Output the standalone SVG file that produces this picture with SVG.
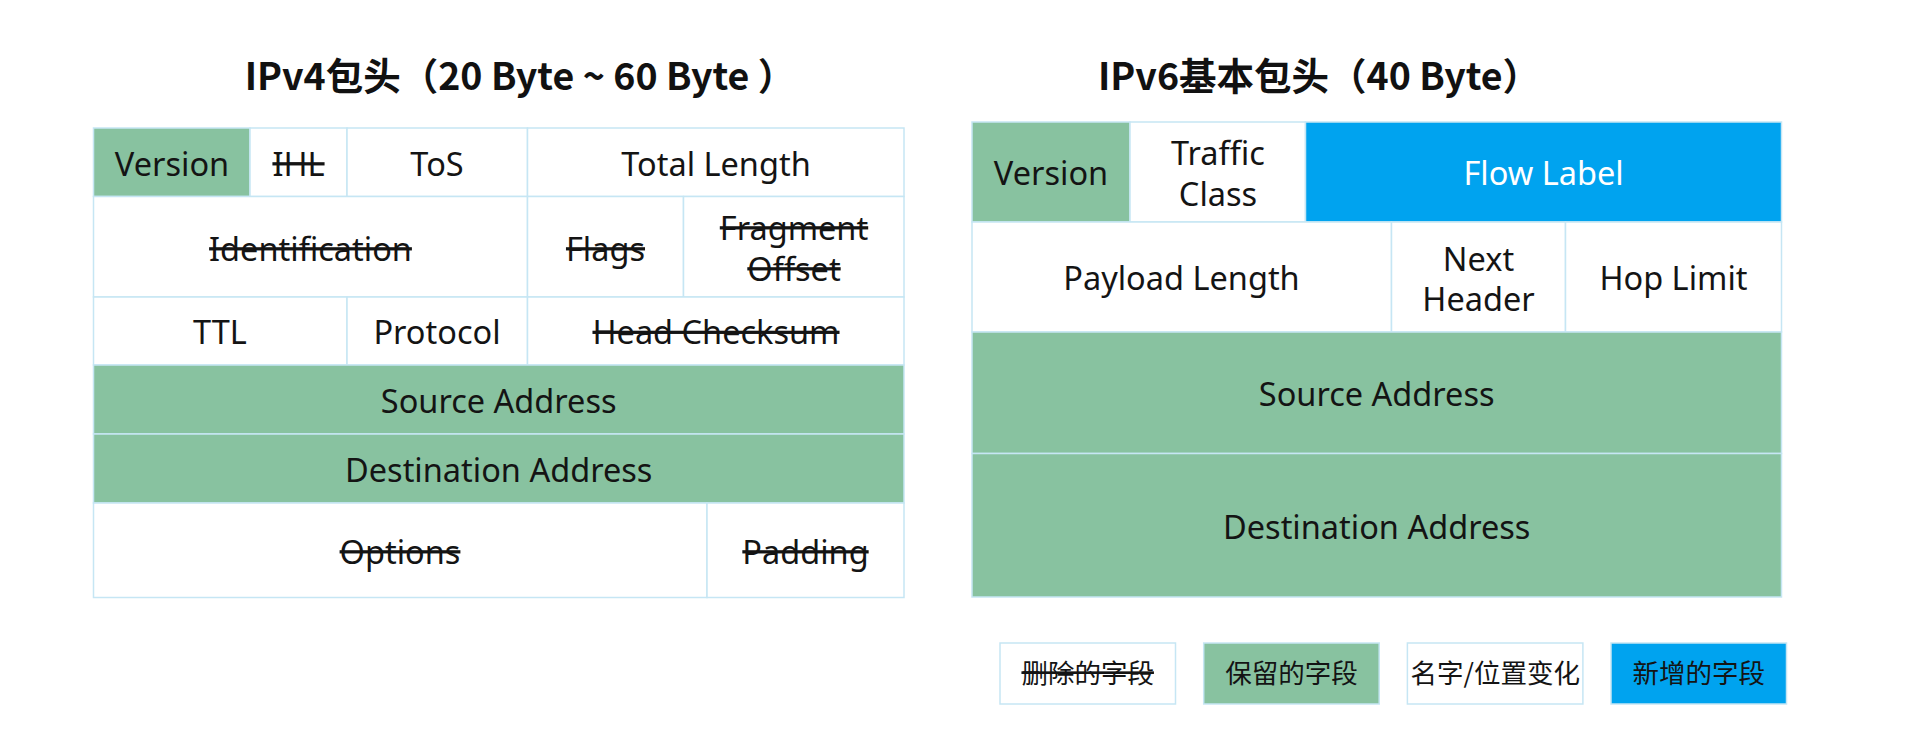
<svg xmlns="http://www.w3.org/2000/svg" width="1924" height="730" viewBox="0 0 1924 730">
  <style>
    .cell { stroke: #c6e6f4; stroke-width: 1.5; }
    .w { fill: #ffffff; }
    .g { fill: #88c2a0; }
    .b { fill: #00a3ef; }
    .t { font-family: "Noto Sans", "Noto Sans CJK SC", sans-serif; font-size: 32.5px; fill: #141414; text-anchor: middle; }
    .tw { fill: #ffffff; }
    .del { text-decoration: line-through; }
    .title { font-family: "Noto Sans CJK SC", "Noto Sans", sans-serif; font-size: 37.5px; font-weight: bold; fill: #111111; text-anchor: middle; }
    .lg { font-family: "Noto Sans CJK SC", sans-serif; font-size: 26.5px; fill: #141414; text-anchor: middle; }
  </style>
  <rect width="1924" height="730" fill="#ffffff"/>

  <!-- titles -->
  <g id="title-ipv4"><text class="title" x="520" y="90">IPv4包头（20 Byte ~ 60 Byte ）</text></g>
  <g id="title-ipv6"><text class="title" x="1319" y="90">IPv6基本包头（40 Byte）</text></g>

  <!-- IPv4 header -->
  <g id="ipv4">
    <g id="v4-version"><rect class="cell g" x="93.5" y="128" width="156.5" height="68.5"/><text class="t" x="172" y="175.5">Version</text></g>
    <g id="v4-ihl"><rect class="cell w" x="250" y="128" width="97" height="68.5"/><text class="t del" x="298.5" y="175.5">IHL</text></g>
    <g id="v4-tos"><rect class="cell w" x="347" y="128" width="180.5" height="68.5"/><text class="t" x="437" y="175.5">ToS</text></g>
    <g id="v4-total-length"><rect class="cell w" x="527.5" y="128" width="376.5" height="68.5"/><text class="t" x="716" y="175.5">Total Length</text></g>

    <g id="v4-identification"><rect class="cell w" x="93.5" y="196.5" width="434" height="100.5"/><text class="t del" x="310.5" y="260.5">Identification</text></g>
    <g id="v4-flags"><rect class="cell w" x="527.5" y="196.5" width="156" height="100.5"/><text class="t del" x="605.5" y="260.5">Flags</text></g>
    <g id="v4-fragment-offset"><rect class="cell w" x="683.5" y="196.5" width="220.5" height="100.5"/><text class="t del" x="794" y="239.5">Fragment</text><text class="t del" x="794" y="280.5">Offset</text></g>

    <g id="v4-ttl"><rect class="cell w" x="93.5" y="297" width="253.5" height="68"/><text class="t" x="220" y="344">TTL</text></g>
    <g id="v4-protocol"><rect class="cell w" x="347" y="297" width="180.5" height="68"/><text class="t" x="437" y="344">Protocol</text></g>
    <g id="v4-checksum"><rect class="cell w" x="527.5" y="297" width="376.5" height="68"/><text class="t del" x="716" y="344">Head Checksum</text></g>

    <g id="v4-source"><rect class="cell g" x="93.5" y="365" width="810.5" height="69"/><text class="t" x="498.7" y="412.5">Source Address</text></g>
    <g id="v4-destination"><rect class="cell g" x="93.5" y="434" width="810.5" height="69"/><text class="t" x="498.7" y="481.5">Destination Address</text></g>

    <g id="v4-options"><rect class="cell w" x="93.5" y="503" width="613.5" height="94.5"/><text class="t del" x="400" y="563.5">Options</text></g>
    <g id="v4-padding"><rect class="cell w" x="707" y="503" width="197" height="94.5"/><text class="t del" x="805.5" y="563.5">Padding</text></g>
  </g>

  <!-- IPv6 base header -->
  <g id="ipv6">
    <g id="v6-version"><rect class="cell g" x="972" y="122" width="158" height="100"/><text class="t" x="1051" y="184.5">Version</text></g>
    <g id="v6-traffic-class"><rect class="cell w" x="1130" y="122" width="175.5" height="100"/><text class="t" x="1218" y="164.5">Traffic</text><text class="t" x="1218" y="205.5">Class</text></g>
    <g id="v6-flow-label"><rect class="cell b" x="1305.5" y="122" width="476" height="100"/><text class="t tw" x="1543.5" y="184.5">Flow Label</text></g>

    <g id="v6-payload-length"><rect class="cell w" x="972" y="222" width="419.5" height="110"/><text class="t" x="1181.5" y="290">Payload Length</text></g>
    <g id="v6-next-header"><rect class="cell w" x="1391.5" y="222" width="174" height="110"/><text class="t" x="1478.5" y="270.5">Next</text><text class="t" x="1478.5" y="311">Header</text></g>
    <g id="v6-hop-limit"><rect class="cell w" x="1565.5" y="222" width="216" height="110"/><text class="t" x="1673.5" y="290">Hop Limit</text></g>

    <g id="v6-source"><rect class="cell g" x="972" y="332" width="809.5" height="121.5"/><text class="t" x="1376.7" y="405.5">Source Address</text></g>
    <g id="v6-destination"><rect class="cell g" x="972" y="453.5" width="809.5" height="143.5"/><text class="t" x="1376.7" y="539">Destination Address</text></g>
  </g>

  <!-- legend -->
  <g id="legend">
    <g id="legend-removed"><rect class="cell w" x="1000" y="643" width="175.5" height="61"/><text class="lg del" x="1087.7" y="683">删除的字段</text></g>
    <g id="legend-kept"><rect class="cell g" x="1203.7" y="643" width="175.5" height="61"/><text class="lg" x="1291.5" y="683">保留的字段</text></g>
    <g id="legend-changed"><rect class="cell w" x="1407.4" y="643" width="175.5" height="61"/><text class="lg" x="1495.2" y="683">名字/位置变化</text></g>
    <g id="legend-new"><rect class="cell b" x="1611" y="643" width="175.5" height="61"/><text class="lg tw" x="1698.8" y="683">新增的字段</text></g>
  </g>

  <!-- no connectors in this figure -->
  <g id="connectors"/>
</svg>
